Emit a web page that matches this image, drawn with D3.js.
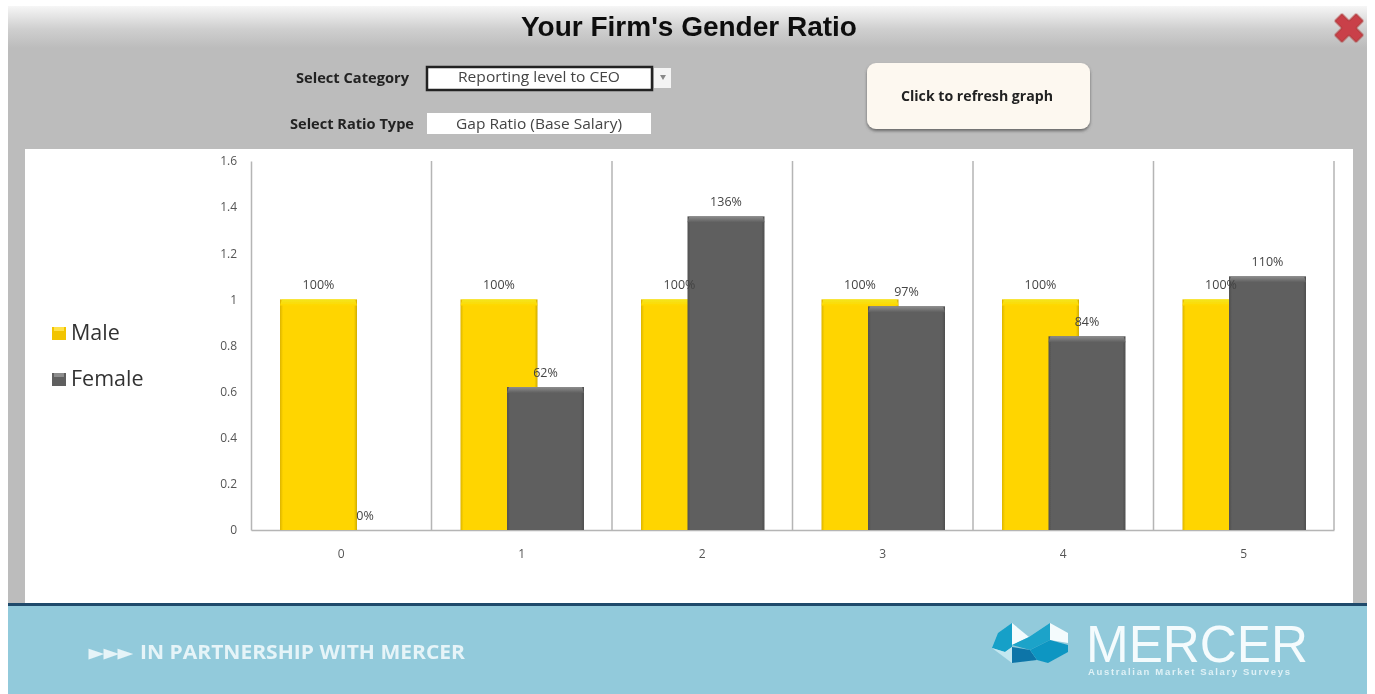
<!DOCTYPE html>
<html><head><meta charset="utf-8">
<script src="https://cdn.jsdelivr.net/npm/d3@7/dist/d3.min.js"></script>
<style>html,body{margin:0;padding:0;background:#fff;overflow:hidden}svg{display:block}</style>
</head><body><svg id="c" width="1375" height="694"></svg>
<script>
const categories=["0","1","2","3","4","5"];
const maleValues=[1,1,1,1,1,1];
const femaleValues=[0,0.62,1.36,0.97,0.84,1.10];
const maleLabels=["100%","100%","100%","100%","100%","100%"];
const femaleLabels=["0%","62%","136%","97%","84%","110%"];
const yTicks=[0,0.2,0.4,0.6,0.8,1,1.2,1.4,1.6];
const legendNames=["Male","Female"];
const titleText="Your Firm's Gender Ratio";
const footerArrows="▸▸▸";
const footerText="IN PARTNERSHIP WITH MERCER";

const svg=d3.select("#c");
const defs=svg.append("defs");
function lg(id,stops,x2,y2){const g=defs.append("linearGradient").attr("id",id).attr("x1",0).attr("y1",0).attr("x2",x2).attr("y2",y2);
 stops.forEach(s=>g.append("stop").attr("offset",s[0]).attr("stop-color",s[1]));}
lg("hdr",[[0,"#f6f6f6"],[0.55,"#cfcfcf"],[1,"#bcbcbc"]],0,1);
lg("mTop",[[0,"#f3e61c"],[1,"#ffd800"]],0,1);
lg("fTop",[[0,"#8d8d8d"],[1,"#5f5f5f"]],0,1);
lg("mBody",[[0,"#dcb400"],[0.04,"#ffd500"],[0.96,"#ffd500"],[1,"#d0ac00"]],1,0);
lg("fBody",[[0,"#505050"],[0.04,"#5f5f5f"],[0.96,"#5f5f5f"],[1,"#4e4e4e"]],1,0);
const shadowF=defs.append("filter").attr("id","sh").attr("x","-10%").attr("y","-10%").attr("width","120%").attr("height","130%");
shadowF.append("feDropShadow").attr("dx",0).attr("dy",2).attr("stdDeviation",1.5).attr("flood-color","#555").attr("flood-opacity",0.8);
const softF=defs.append("filter").attr("id","soft");softF.append("feGaussianBlur").attr("stdDeviation",0.45);

const sans="'Liberation Sans',Arial,sans-serif", ui="'Open Sans','Noto Sans',sans-serif";
// panel
svg.append("rect").attr("x",8).attr("y",6).attr("width",1359).attr("height",600).attr("fill","#bcbcbc");
svg.append("rect").attr("x",8).attr("y",6).attr("width",1359).attr("height",42).attr("fill","url(#hdr)");
const head=svg.append("g").attr("filter","url(#soft)");
head.append("text").attr("x",689).attr("y",36).attr("text-anchor","middle").attr("font-family",sans).attr("font-weight",700).attr("font-size",28).attr("fill","#111").text(titleText);
// close X
head.append("path").attr("transform","translate(1349,28) rotate(45)").attr("d","M-5,-15H5V-5H15V5H5V15H-5V5H-15V-5H-5Z").attr("fill","#c9404a").attr("stroke","#a33").attr("stroke-width",1);
// controls
function lab(t,xp,yp,w){head.append("text").attr("x",xp).attr("y",yp).attr("font-family",ui).attr("font-weight",700).attr("font-size",13.5).attr("textLength",w).attr("lengthAdjust","spacingAndGlyphs").attr("fill","#222").text(t);}
lab("Select Category",296,83,113);lab("Select Ratio Type",290,129,124);
head.append("rect").attr("x",427).attr("y",67).attr("width",225).attr("height",23).attr("fill","#fff").attr("stroke","#222").attr("stroke-width",2.5);
head.append("rect").attr("x",654).attr("y",68).attr("width",17).attr("height",20).attr("fill","#f4f4f4");
head.append("path").attr("d","M660,75h6l-3,5z").attr("fill","#888");
head.append("rect").attr("x",427).attr("y",113).attr("width",224).attr("height",21).attr("fill","#fff");
function val(t,xp,yp,w){head.append("text").attr("x",xp).attr("y",yp).attr("font-family",ui).attr("font-size",14).attr("textLength",w).attr("lengthAdjust","spacingAndGlyphs").attr("fill","#444").text(t);}
val("Reporting level to CEO",458,82,162);val("Gap Ratio (Base Salary)",456,129,166);
head.append("rect").attr("x",867).attr("y",63).attr("width",223).attr("height",66).attr("rx",9).attr("fill","#fdf8f0").attr("filter","url(#sh)");
head.append("text").attr("x",901).attr("y",101).attr("font-family",ui).attr("font-weight",700).attr("font-size",13.5).attr("textLength",152).attr("lengthAdjust","spacingAndGlyphs").attr("fill","#222").text("Click to refresh graph");
// chart area
svg.append("rect").attr("x",25).attr("y",149).attr("width",1328).attr("height",455).attr("fill","#fff");
const x=d3.scaleBand().domain(categories).range([251,1334]);
const y=d3.scaleLinear().domain([0,1.6]).range([530,161]);
const series=d3.scaleOrdinal().domain(legendNames).range([29,75.5]);
const barW=77;
const g=svg.append("g").attr("filter","url(#soft)");
// axes
const yAxis=d3.axisLeft(y).tickValues(yTicks).tickSize(0).tickPadding(14).tickFormat(d=>String(d));
const ya=g.append("g").attr("transform","translate(251,0)").call(yAxis);
ya.select(".domain").attr("stroke","#b5b5b5").attr("stroke-width",1.5);
const xa=g.append("g").attr("transform","translate(0,530)").call(d3.axisBottom(x).tickSize(0).tickPadding(19));
xa.select(".domain").attr("stroke","#b5b5b5").attr("stroke-width",1.5);
[ya,xa].forEach(a=>a.selectAll("text").attr("font-family",ui).attr("font-size",12).attr("fill","#555"));
g.selectAll(".sep").data(categories.slice(1).concat("end")).join("line").attr("class","sep")
 .attr("x1",d=>d==="end"?x.range()[1]:x(d)).attr("x2",d=>d==="end"?x.range()[1]:x(d)).attr("y1",161).attr("y2",530).attr("stroke","#b5b5b5").attr("stroke-width",1.5);
// bars
function bars(vals,name,body,topf){
 const off=series(name);
 const gg=g.append("g");
 const ds=categories.map((c,i)=>({c,v:vals[i]})).filter(d=>d.v>0);
 gg.selectAll(".b").data(ds).join("rect").attr("x",d=>x(d.c)+off).attr("y",d=>y(d.v)).attr("width",barW).attr("height",d=>y(0)-y(d.v)).attr("fill",`url(#${body})`);
 gg.selectAll(".t").data(ds).join("path").attr("d",d=>{const X=x(d.c)+off,Y=y(d.v);return `M${X},${Y+6}L${X+2},${Y}H${X+barW-2}L${X+barW},${Y+6}Z`;}).attr("fill",`url(#${topf})`);
}
bars(maleValues,"Male","mBody","mTop");
bars(femaleValues,"Female","fBody","fTop");
function labels(vals,txt,name){
 g.append("g").selectAll("text").data(categories.map((c,i)=>({c,v:vals[i],t:txt[i]}))).join("text")
 .attr("x",d=>x(d.c)+series(name)+barW/2).attr("y",d=>y(d.v)-10.5).attr("text-anchor","middle")
 .attr("font-family",ui).attr("font-size",12.5).attr("fill","#444").text(d=>d.t);
}
labels(maleValues,maleLabels,"Male");labels(femaleValues,femaleLabels,"Female");
// legend
const legendY=d3.scalePoint().domain(legendNames).range([333,379]);
const lg2=g.append("g").selectAll("g").data(legendNames).join("g").attr("transform",d=>`translate(52,${legendY(d)})`);
lg2.append("rect").attr("y",-6).attr("width",14).attr("height",13).attr("fill",d=>d==="Male"?"#f2c400":"#5f5f5f");
lg2.append("rect").attr("x",2).attr("y",-6).attr("width",10).attr("height",4).attr("fill",d=>d==="Male"?"#ffe14a":"#8d8d8d");
lg2.append("text").attr("x",19).attr("y",7).attr("font-family",ui).attr("font-size",21.5).attr("fill","#333").text(d=>d);
// footer
svg.append("rect").attr("x",8).attr("y",603).attr("width",1359).attr("height",91).attr("fill","#92cadb");
svg.append("rect").attr("x",8).attr("y",603).attr("width",1359).attr("height",3).attr("fill","#1f4a6b");
const f=svg.append("g").attr("filter","url(#soft)");
const ft=f.append("text").attr("y",659).attr("font-family",ui).attr("font-weight",700).attr("fill","#e6f4f8");
ft.append("tspan").attr("x",89).attr("font-size",19).attr("textLength",44).attr("lengthAdjust","spacingAndGlyphs").text(footerArrows);
ft.append("tspan").attr("x",140).attr("font-size",20).attr("textLength",325).attr("lengthAdjust","spacingAndGlyphs").text(footerText);
const logo=[
 ["M992,648 L998,633 L1012,623 L1012,647 L1005,652 Z","#14a0c8"],
 ["M1012,623 L1029,637 L1012,645 Z","#f4fbfd"],
 ["M1012,645 L1029,637 L1050,623 L1050,640 L1030,650 Z","#1aa3c9"],
 ["M1050,623 L1068,633 L1068,643 L1050,640 Z","#f4fbfd"],
 ["M1012,647 L1030,650 L1037,660 L1012,663 Z","#0b75a8"],
 ["M1030,650 L1050,640 L1068,645 L1068,652 L1048,663 L1037,660 Z","#1196c2"],
 ["M992,648 L1005,652 L1012,647 L1012,663 Z","#c3e7f0"]];
f.selectAll(".lg").data(logo).join("path").attr("d",d=>d[0]).attr("fill",d=>d[1]);
f.append("text").attr("x",1086).attr("y",662).attr("font-family",sans).attr("font-size",52).attr("textLength",222).attr("lengthAdjust","spacingAndGlyphs").attr("fill","#f4fbfd").text("MERCER");
f.append("text").attr("x",1088).attr("y",675).attr("font-family",sans).attr("font-weight",700).attr("font-size",9.5).attr("textLength",202).attr("fill","#dff1f6").text("Australian Market Salary Surveys");
</script></body></html>
